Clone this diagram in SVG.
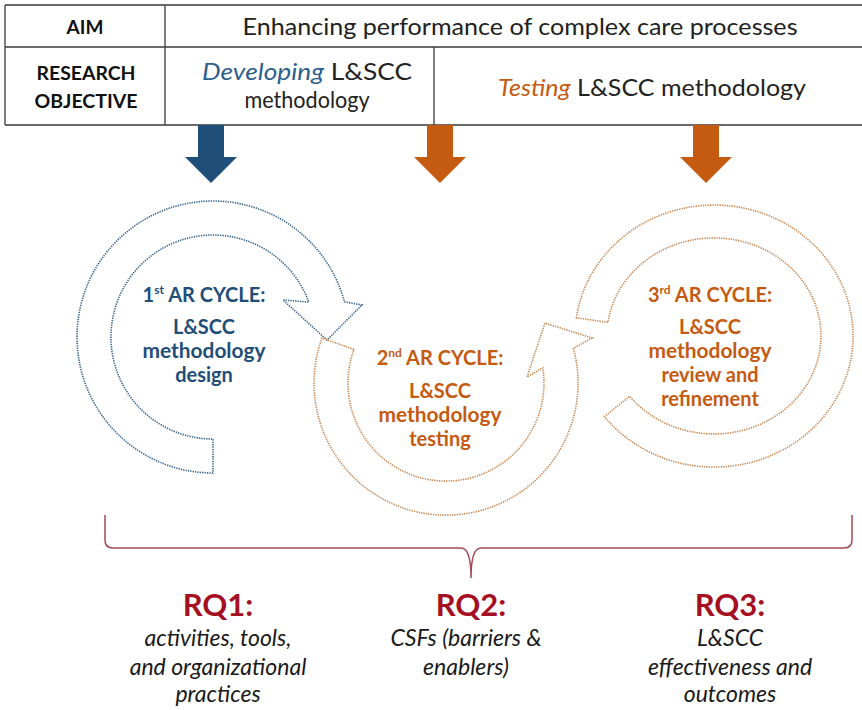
<svg xmlns="http://www.w3.org/2000/svg" width="862" height="710" viewBox="0 0 862 710">
  <style>
    .grid { stroke: #3a3a3a; stroke-width: 1.3; fill: none; }
    .hdr { font-family: Lato, "Liberation Sans", sans-serif; font-weight: bold; font-size: 19px; fill: #111; text-anchor: middle; }
    .cell { font-family: Lato, "Liberation Sans", sans-serif; font-size: 24px; fill: #222; text-anchor: middle; }
    .it { font-style: italic; }
    .blue { fill: #2e5f8c; }
    .orange { fill: #c55a11; }
    .ring-blue { fill: none; stroke: #34608a; stroke-width: 1.6; stroke-dasharray: 1.3 1.1; }
    .ring-orange { fill: none; stroke: #c98550; stroke-width: 1.6; stroke-dasharray: 1.3 1.1; }
    .cyc { font-family: Lato, "Liberation Sans", sans-serif; font-weight: bold; font-size: 20px; text-anchor: middle; }
    .cyc-b { fill: #1f4e79; }
    .cyc-o { fill: #c55a11; }
    .rq { font-family: Lato, "Liberation Sans", sans-serif; font-weight: bold; font-size: 31px; fill: #a50f23; text-anchor: middle; }
    .rqt { font-family: Lato, "Liberation Sans", sans-serif; font-style: italic; font-size: 23px; fill: #1a1a1a; text-anchor: middle; }
    .brace { fill: none; stroke: #a34a52; stroke-width: 1.5; }
  </style>

  <rect width="862" height="710" fill="#ffffff"/>

  <!-- header table -->
  <g id="table">
    <path class="grid" d="M5 5 H862 M5 47 H862 M5 125 H862 M5 5 V125 M165 5 V125 M434 47 V125"/>
    <text class="hdr" x="85" y="34">AIM</text>
    <text class="cell" x="520" y="35" textLength="555" lengthAdjust="spacingAndGlyphs">Enhancing performance of complex care processes</text>
    <text class="hdr" x="86" y="80" textLength="99" lengthAdjust="spacingAndGlyphs">RESEARCH</text>
    <text class="hdr" x="86" y="108" textLength="103" lengthAdjust="spacingAndGlyphs">OBJECTIVE</text>
    <text class="cell" x="307" y="80" textLength="210" lengthAdjust="spacingAndGlyphs"><tspan class="it blue">Developing</tspan> L&amp;SCC</text>
    <text class="cell" x="307" y="108" textLength="125" lengthAdjust="spacingAndGlyphs">methodology</text>
    <text class="cell" x="652" y="96" textLength="308" lengthAdjust="spacingAndGlyphs"><tspan class="it orange">Testing</tspan> L&amp;SCC methodology</text>
  </g>

  <!-- objective arrows -->
  <g id="arrow-develop">
    <path fill="#1f4e79" d="M198 125 H224 V157 H237 L211 183 L185 157 H198 Z"/>
  </g>
  <g id="arrow-test-1">
    <path fill="#c55a11" d="M427 125 H453 V157 H466 L440 183 L414 157 H427 Z"/>
  </g>
  <g id="arrow-test-2">
    <path fill="#c55a11" d="M693 125 H719 V157 H732 L706 183 L680 157 H693 Z"/>
  </g>

  <!-- cycle 1 -->
  <g id="cycle-1">
    <path class="ring-blue" d="M213 473 A136 136 0 1 1 344.4 301.8 L362 305 L327 340 L283 300 L308.8 302.1 A102 102 0 1 0 213 439 Z"/>
    <text class="cyc cyc-b" x="204" y="302">1<tspan font-size="12" dy="-8">st</tspan><tspan dy="8"> AR CYCLE:</tspan></text>
    <text class="cyc cyc-b" x="204" y="334">L&amp;SCC</text>
    <text class="cyc cyc-b" x="204" y="358" textLength="123" lengthAdjust="spacingAndGlyphs">methodology</text>
    <text class="cyc cyc-b" x="204" y="382">design</text>
  </g>

  <!-- cycle 2 -->
  <g id="cycle-2">
    <path class="ring-orange" d="M322 338 A132 132 0 1 0 573.4 348.4 L592 338 L545 323 L527 377 L542.8 368 A98 98 0 1 1 353.9 349.5 Z"/>
    <text class="cyc cyc-o" x="440" y="365">2<tspan font-size="12" dy="-8">nd</tspan><tspan dy="8"> AR CYCLE:</tspan></text>
    <text class="cyc cyc-o" x="440" y="398">L&amp;SCC</text>
    <text class="cyc cyc-o" x="440" y="422" textLength="123" lengthAdjust="spacingAndGlyphs">methodology</text>
    <text class="cyc cyc-o" x="440" y="446">testing</text>
  </g>

  <!-- cycle 3 -->
  <g id="cycle-3">
    <path class="ring-orange" d="M576.4 317.8 A139 131 0 1 1 604.5 416.7 L629.7 396.3 A107 98 0 1 0 608 322.4 Z"/>
    <text class="cyc cyc-o" x="710" y="302">3<tspan font-size="12" dy="-8">rd</tspan><tspan dy="8"> AR CYCLE:</tspan></text>
    <text class="cyc cyc-o" x="710" y="334">L&amp;SCC</text>
    <text class="cyc cyc-o" x="710" y="358" textLength="123" lengthAdjust="spacingAndGlyphs">methodology</text>
    <text class="cyc cyc-o" x="710" y="382">review and</text>
    <text class="cyc cyc-o" x="710" y="406">refinement</text>
  </g>

  <!-- brace over the research questions -->
  <g id="connectors">
    <path class="brace" d="M105 515 V540 Q105 548 113 548 H461 Q471 548 471 578 Q471 548 481 548 H844 Q852 548 852 540 V515"/>
  </g>

  <g id="rq1">
    <text class="rq" x="218" y="616">RQ1:</text>
    <text class="rqt" x="218" y="646">activities, tools,</text>
    <text class="rqt" x="218" y="675">and organizational</text>
    <text class="rqt" x="218" y="702">practices</text>
  </g>
  <g id="rq2">
    <text class="rq" x="471" y="616">RQ2:</text>
    <text class="rqt" x="466" y="646">CSFs (barriers &amp;</text>
    <text class="rqt" x="466" y="675">enablers)</text>
  </g>
  <g id="rq3">
    <text class="rq" x="730" y="616">RQ3:</text>
    <text class="rqt" x="730" y="646">L&amp;SCC</text>
    <text class="rqt" x="730" y="675">effectiveness and</text>
    <text class="rqt" x="730" y="702">outcomes</text>
  </g>
</svg>
